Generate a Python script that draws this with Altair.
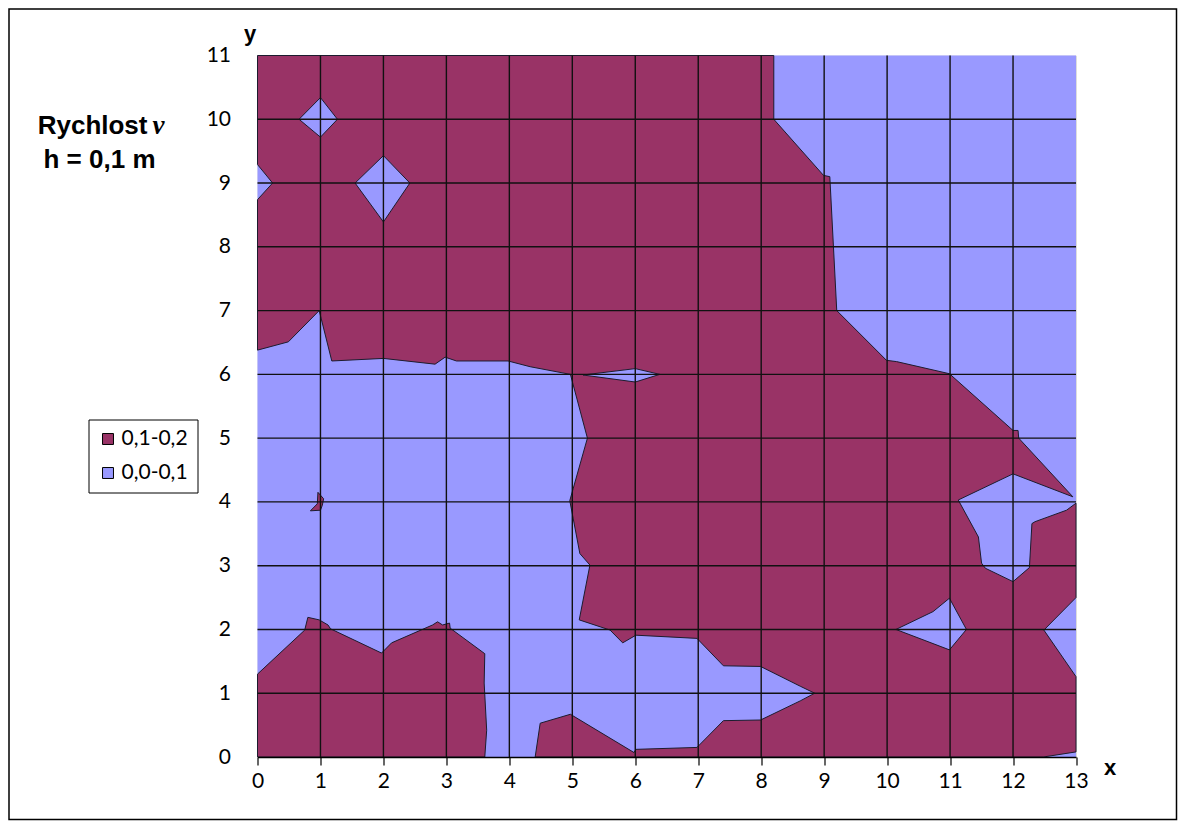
import altair as alt
import pandas as pd

# ---- class labels and colours ----
classes = ["0,1-0,2", "0,0-0,1"]
colors = ["#993366", "#9999FF"]

# ---- purple (0,1-0,2) regions, vertices in data units ----
main_x = [0, 8.2, 8.2, 8.99, 9.09, 9.2, 9.99, 10.15, 10.99, 12.0, 12.08, 12.09, 12.95, 12.0, 11.13,
          11.45, 11.5, 11.56, 12.0, 12.26, 12.3, 12.35, 12.85, 13, 13, 12.49, 13, 13, 12.48, 4.41,
          4.49, 4.97, 5.98, 6.01, 6.98, 7.4, 7.99, 8.62, 8.85, 8.62, 7.99, 7.4, 6.98, 6.01, 5.8,
          5.6, 5.11, 5.28, 5.12, 4.96, 5.24, 4.97, 4.33, 3.98, 3.16, 2.98, 2.82, 2.0, 1.18, 0.98,
          0.49, 0, 0, 0.24, 0, 0]
main_y = [11, 11, 10.0, 9.12, 9.1, 7.0, 6.22, 6.2, 6.01, 5.12, 5.12, 5.0, 4.08, 4.44, 4.03,
          3.45, 3.04, 2.96, 2.75, 2.97, 3.66, 3.69, 3.87, 3.98, 2.5, 1.99, 1.26, 0.08, 0, 0,
          0.53, 0.67, 0.07, 0.12, 0.15, 0.57, 0.58, 0.88, 1.0, 1.11, 1.42, 1.43, 1.86, 1.91, 1.79,
          1.99, 2.15, 3.01, 3.19, 4.02, 5.0, 6.0, 6.12, 6.21, 6.21, 6.27, 6.16, 6.25, 6.21, 7.0,
          6.51, 6.38, 8.74, 9.0, 9.29, 11]

low_x = [0, 0, 0.75, 0.8, 0.98, 1.12, 1.16, 1.97, 2.13, 2.78, 2.86, 2.94, 3.05, 3.06, 3.61, 3.6, 3.64, 3.61, 0]
low_y = [0, 1.3, 1.99, 2.19, 2.15, 2.07, 2.01, 1.63, 1.79, 2.07, 2.12, 2.07, 2.1, 2.02, 1.62, 1.16, 0.42, 0, 0]

dot_x = [0.96, 1.05, 1.03, 1.0, 0.84, 0.95, 0.96]
dot_y = [4.15, 4.05, 3.95, 3.87, 3.86, 3.97, 4.15]

# ---- blue (0,0-0,1) holes inside purple ----
h1_x = [1, 1.27, 1, 0.66, 1]
h1_y = [10.34, 10, 9.72, 10, 10.34]
h2_x = [2, 2.42, 2, 1.55, 2]
h2_y = [9.43, 9, 8.39, 9, 9.43]
h3_x = [5.17, 6.0, 6.39, 6.0, 5.17]
h3_y = [5.99, 6.09, 6.0, 5.88, 5.99]
h4_x = [10.14, 10.73, 10.99, 11.26, 10.99, 10.14]
h4_y = [2.0, 2.28, 2.49, 2.0, 1.68, 2.0]

# ---- blue background field (whole grid) ----
field_x = [0, 13]
field_y = [0, 11]

x_ticks = list(range(0, 14))
y_ticks = list(range(0, 12))
x_grid = list(range(1, 13))
y_grid = list(range(1, 11))


def table(polys):
    rows = []
    for name, cls, xs, ys in polys:
        for i, (a, b) in enumerate(zip(xs, ys)):
            rows.append({"poly": name, "cls": cls, "idx": i, "x": a, "y": b})
    return pd.DataFrame(rows)


purple_df = table([("main", classes[0], main_x, main_y),
                   ("low", classes[0], low_x, low_y),
                   ("dot", classes[0], dot_x, dot_y)])
blue_df = table([("h1", classes[1], h1_x, h1_y),
                 ("h2", classes[1], h2_x, h2_y),
                 ("h3", classes[1], h3_x, h3_y),
                 ("h4", classes[1], h4_x, h4_y)])
field_df = pd.DataFrame({"x": [field_x[0]], "x2": [field_x[1]], "y": [field_y[0]], "y2": [field_y[1]],
                         "cls": [classes[1]]})

xs = alt.Scale(domain=[0, 13], nice=False, zero=False)
ys = alt.Scale(domain=[0, 11], nice=False, zero=False)
fill_scale = alt.Scale(domain=classes, range=colors)

x_axis = alt.Axis(values=x_ticks, format="d", grid=False, tickColor="black", tickSize=8, tickWidth=1.2,
                  domainColor="black", domainWidth=1.5, labelFont="Lato", labelFontSize=21,
                  labelColor="black", labelPadding=5, labelAngle=0, labelFlush=False, zindex=1,
                  title="x", titleFont="Liberation Sans", titleFontSize=22, titleFontWeight="bold",
                  titleX=852, titleY=10, titleBaseline="middle", titleAlign="center")
y_axis = alt.Axis(values=y_ticks, format="d", grid=False, ticks=False, domain=False, labelFont="Lato",
                  labelFontSize=21, labelColor="black", labelPadding=27, labelFlush=False, zindex=1,
                  title="y", titleFont="Liberation Sans", titleFontSize=22, titleFontWeight="bold",
                  titleAngle=0, titleX=-8, titleY=-22, titleBaseline="middle", titleAlign="center")

legend = alt.Legend(title=None, orient="none", legendX=-169, legendY=364, symbolType="square",
                    symbolSize=120, symbolStrokeColor="black", symbolStrokeWidth=1,
                    labelFont="Lato", labelFontSize=21, labelColor="black", strokeColor="black",
                    fillColor="white", padding=9, rowPadding=12, labelOffset=3)

field = alt.Chart(field_df).mark_rect().encode(
    x=alt.X("x:Q", scale=xs, axis=x_axis),
    x2="x2:Q",
    y=alt.Y("y:Q", scale=ys, axis=y_axis),
    y2="y2:Q",
    fill=alt.Fill("cls:N", scale=fill_scale, legend=legend),
)

purple = alt.Chart(purple_df).mark_line(stroke="#1c1c2e", strokeWidth=1).encode(
    x=alt.X("x:Q", scale=xs),
    y=alt.Y("y:Q", scale=ys),
    order="idx:Q",
    detail="poly:N",
    fill=alt.Fill("cls:N", scale=fill_scale, legend=legend),
)

blue = alt.Chart(blue_df).mark_line(stroke="#1c1c2e", strokeWidth=1).encode(
    x=alt.X("x:Q", scale=xs),
    y=alt.Y("y:Q", scale=ys),
    order="idx:Q",
    detail="poly:N",
    fill=alt.Fill("cls:N", scale=fill_scale, legend=legend),
)

vgrid = alt.Chart(pd.DataFrame({"g": x_grid})).mark_rule(color="#111111", strokeWidth=1.4).encode(
    x=alt.X("g:Q", scale=xs))
hgrid = alt.Chart(pd.DataFrame({"g": y_grid})).mark_rule(color="#111111", strokeWidth=1.4).encode(
    y=alt.Y("g:Q", scale=ys))

t1 = alt.Chart(pd.DataFrame({"t": ["Rychlost"]})).mark_text(
    font="Liberation Sans", fontSize=26, fontWeight="bold", align="right",
    baseline="alphabetic", color="black").encode(text="t:N", x=alt.value(-110), y=alt.value(78))
t2 = alt.Chart(pd.DataFrame({"t": ["v"]})).mark_text(
    font="Liberation Serif", fontSize=27, fontWeight="bold", fontStyle="italic", align="left",
    baseline="alphabetic", color="black").encode(text="t:N", x=alt.value(-105), y=alt.value(78))
t3 = alt.Chart(pd.DataFrame({"t": ["h = 0,1 m"]})).mark_text(
    font="Liberation Sans", fontSize=26, fontWeight="bold", align="center",
    baseline="alphabetic", color="black").encode(text="t:N", x=alt.value(-158), y=alt.value(112))

border = alt.Chart(pd.DataFrame({"b": [1]})).mark_rect(fill="transparent", stroke="black", strokeWidth=1.5).encode(
    x=alt.value(-248.5), x2=alt.value(919), y=alt.value(-46.5), y2=alt.value(764))

chart = alt.layer(field, purple, blue, vgrid, hgrid, t1, t2, t3, border).properties(
    width=818.5, height=701.5,
    autosize=alt.AutoSizeParams(type="none"),
    padding={"left": 249.5, "top": 47.5, "right": 102, "bottom": 65},
).configure_view(stroke="#999999", strokeWidth=1.5).configure(background="white")

chart.save("out.html", embed_options={"renderer": "svg", "actions": False})
